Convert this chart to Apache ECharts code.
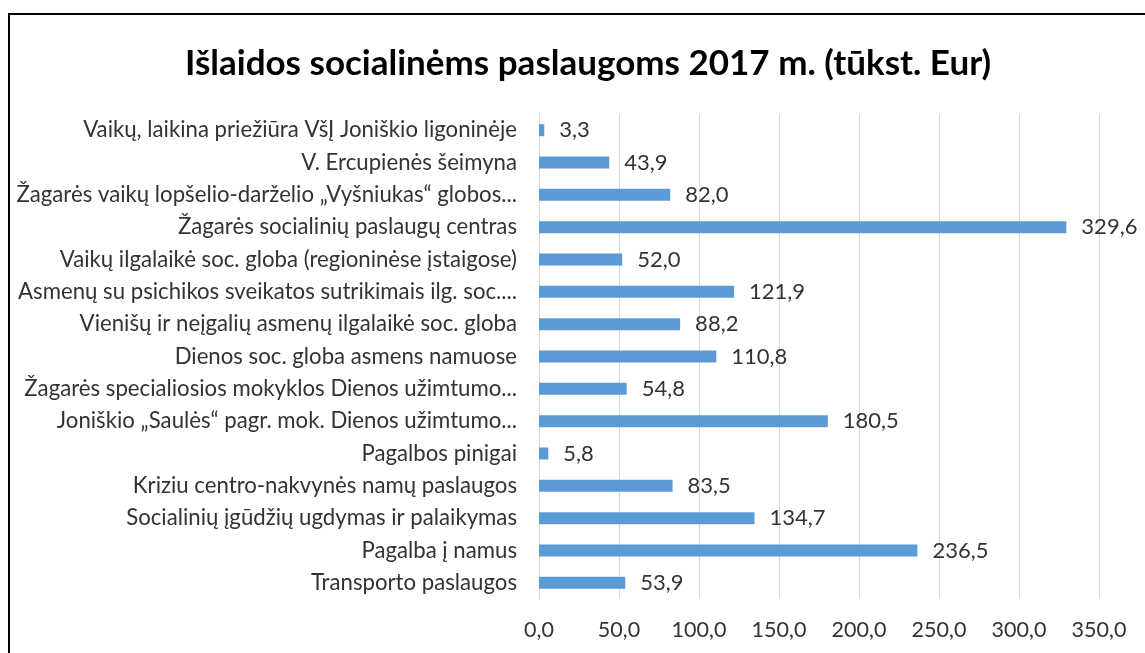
<!DOCTYPE html>
<html>
<head>
<meta charset="utf-8">
<script src="https://cdn.jsdelivr.net/npm/echarts@6/dist/echarts.min.js"></script>
<style>
  html, body { margin: 0; padding: 0; background: #fff; }
  #chart { width: 1145px; height: 653px; }
</style>
</head>
<body>
<div id="chart"></div>
<script>
// kategorijos (iš viršaus į apačią)
const categories = [
  "Vaikų, laikina priežiūra VšĮ Joniškio ligoninėje",
  "V. Ercupienės šeimyna",
  "Žagarės vaikų lopšelio-darželio „Vyšniukas“ globos...",
  "Žagarės socialinių paslaugų centras",
  "Vaikų ilgalaikė soc. globa (regioninėse įstaigose)",
  "Asmenų su psichikos sveikatos sutrikimais ilg. soc....",
  "Vienišų ir neįgalių asmenų ilgalaikė soc. globa",
  "Dienos soc. globa asmens namuose",
  "Žagarės specialiosios mokyklos Dienos užimtumo...",
  "Joniškio „Saulės“ pagr. mok. Dienos užimtumo...",
  "Pagalbos pinigai",
  "Kriziu centro-nakvynės namų paslaugos",
  "Socialinių įgūdžių ugdymas ir palaikymas",
  "Pagalba į namus",
  "Transporto paslaugos"
];
const values = [3.3, 43.9, 82.0, 329.6, 52.0, 121.9, 88.2, 110.8, 54.8, 180.5, 5.8, 83.5, 134.7, 236.5, 53.9];

const titleText = "Išlaidos socialinėms paslaugoms 2017 m. (tūkst. Eur)";
const fmt = v => v.toFixed(1).replace(".", ",");

const chart = echarts.init(document.getElementById("chart"));
chart.setOption({
  backgroundColor: "#fff",
  animation: false,
  textStyle: { fontFamily: "Lato" },
  title: {
    text: titleText,
    left: 180,
    top: 41,
    textStyle: { fontFamily: "Lato", fontWeight: "bold", fontSize: 35, color: "#000" }
  },
  graphic: [{
    type: "rect",
    shape: { x: 9, y: 14, width: 1200, height: 700 },
    style: { fill: "none", stroke: "#000", lineWidth: 2 },
    silent: true
  }],
  grid: { left: 539, right: 46, top: 114, bottom: 54, containLabel: false },
  xAxis: {
    type: "value",
    min: 0,
    max: 350,
    interval: 50,
    axisLine: { show: false },
    axisTick: { show: false },
    splitLine: { show: true, lineStyle: { color: "#d9d9d9", width: 1 } },
    axisLabel: {
      formatter: fmt,
      fontSize: 21.5,
      color: "#333",
      margin: 20,
      fontFamily: "Lato"
    }
  },
  yAxis: {
    type: "category",
    inverse: true,
    data: categories,
    axisLine: { show: true, lineStyle: { color: "#d9d9d9" } },
    axisTick: { show: false },
    axisLabel: { fontSize: 22.2, color: "#333", margin: 22, fontFamily: "Lato" }
  },
  series: [{
    type: "bar",
    data: values,
    barWidth: 12,
    itemStyle: { color: "#5b9bd5" },
    label: {
      show: true,
      position: "right",
      distance: 15,
      formatter: p => fmt(p.value),
      fontSize: 22,
      color: "#333",
      fontFamily: "Lato"
    }
  }]
});
</script>
</body>
</html>
